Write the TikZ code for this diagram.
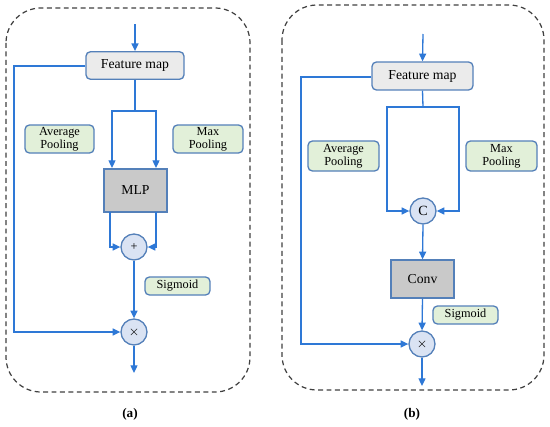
\documentclass[tikz,border=0pt]{standalone}
\usepackage{fontspec}
\setmainfont{Liberation Serif}
\usetikzlibrary{arrows.meta}
\definecolor{linecol}{RGB}{46,120,214}
\definecolor{bordcol}{RGB}{84,128,185}
\definecolor{fmfill}{RGB}{235,235,235}
\definecolor{opfill}{RGB}{201,201,201}
\definecolor{grfill}{RGB}{226,240,217}
\definecolor{cifill}{RGB}{218,227,243}
\definecolor{dashcol}{RGB}{64,64,64}
\tikzset{
  fmbox/.style={draw=bordcol, fill=fmfill, rounded corners=2.5pt, line width=0.75pt, minimum width=1.96cm, minimum height=0.55cm, inner sep=0pt, font=\fontsize{7.8}{9}\selectfont},
  opbox/.style={draw=bordcol, fill=opfill, line width=0.75pt, inner sep=0pt, font=\fontsize{7.8}{9}\selectfont},
  grbox/.style={draw=bordcol, fill=grfill, rounded corners=2.5pt, line width=0.75pt, inner sep=0pt, align=center, font=\fontsize{7}{7.6}\selectfont},
  opcirc/.style={circle, draw=bordcol, fill=cifill, line width=0.75pt, minimum size=0.52cm, inner sep=0pt},
  conn/.style={draw=linecol, line width=0.75pt},
  arr/.style={conn, -{Triangle[length=4.4pt,width=4pt]}},
  panel/.style={draw=dashcol, dashed, dash pattern=on 2.8pt off 2pt, line width=0.7pt, rounded corners=0.7cm},
  captxt/.style={font=\fontsize{7.5}{9}\selectfont\bfseries}
}
\begin{document}
\begin{tikzpicture}[x=0.02cm, y=-0.02cm]
\useasboundingbox (0,0) rectangle (550,426);
% ---------- panel (a) ----------
\draw[panel] (6,8) rectangle (250,392);
\node[fmbox] (fa) at (135,65.5) {Feature map};
\node[grbox, minimum width=1.38cm, minimum height=0.56cm] (avga) at (59.5,139) {Average\\Pooling};
\node[grbox, minimum width=1.4cm, minimum height=0.56cm] (maxa) at (208,139) {Max\\Pooling};
\node[opbox, minimum width=1.26cm, minimum height=0.86cm] (mlp) at (135.5,190.5) {MLP};
\node[opcirc] (plus) at (134,247) {\fontsize{7}{8}\selectfont +};
\node[opcirc] (timesa) at (134,332) {\fontsize{7}{8}\selectfont $\times$};
\node[grbox, minimum width=1.3cm, minimum height=0.36cm] (siga) at (177.5,286) {Sigmoid};
\coordinate (ina) at (135,24);
\coordinate (outa) at (134,373);
\draw[arr] (ina) -- (fa.north);
\draw[conn] (fa.south) -- (135,111) coordinate (sa);
\draw[arr] (sa) -| (112,168) coordinate (ma1);
\draw[arr] (sa) -| (156,168) coordinate (ma2);
\draw[arr] (110,212) |- (plus.west);
\draw[arr] (156,212) |- (plus.east);
\draw[arr] (plus.south) -- (timesa.north);
\draw[arr] (fa.west |- 0,66) -- (14,66) -- (14,332) -- (timesa.west);
\draw[arr] (timesa.south) -- (outa);
\node[captxt] (capa) at (130,414) {(a)};
% ---------- panel (b) ----------
\draw[panel] (282,5) rectangle (544,390);
\node[fmbox, minimum width=2.02cm, minimum height=0.56cm] (fb) at (422.5,76) {Feature map};
\node[grbox, minimum width=1.42cm, minimum height=0.6cm] (avgb) at (343.5,156) {Average\\Pooling};
\node[grbox, minimum width=1.42cm, minimum height=0.6cm] (maxb) at (501.5,156) {Max\\Pooling};
\node[opcirc] (cat) at (423,211) {\fontsize{8}{9}\selectfont C};
\node[opbox, minimum width=1.26cm, minimum height=0.76cm] (conv) at (422.5,279) {Conv};
\node[opcirc] (timesb) at (422,344) {\fontsize{7}{8}\selectfont $\times$};
\node[grbox, minimum width=1.3cm, minimum height=0.36cm] (sigb) at (465.5,315) {Sigmoid};
\coordinate (inb) at (423,34);
\coordinate (outb) at (422,386);
\draw[arr] (inb) -- (fb.north);
\draw[conn] (fb.south) -- (423,107) coordinate (sb);
\draw[arr] (sb) -- (387,107) |- (cat.west);
\draw[arr] (sb) -- (459,107) |- (cat.east);
\draw[arr] (cat.south) -- (conv.north);
\draw[arr] (conv.south) -- (timesb.north);
\draw[arr] (fb.west |- 0,77) -- (301,77) -- (301,344) -- (timesb.west);
\draw[arr] (timesb.south) -- (outb);
\node[captxt] (capb) at (412,414) {(b)};
\end{tikzpicture}
\end{document}
